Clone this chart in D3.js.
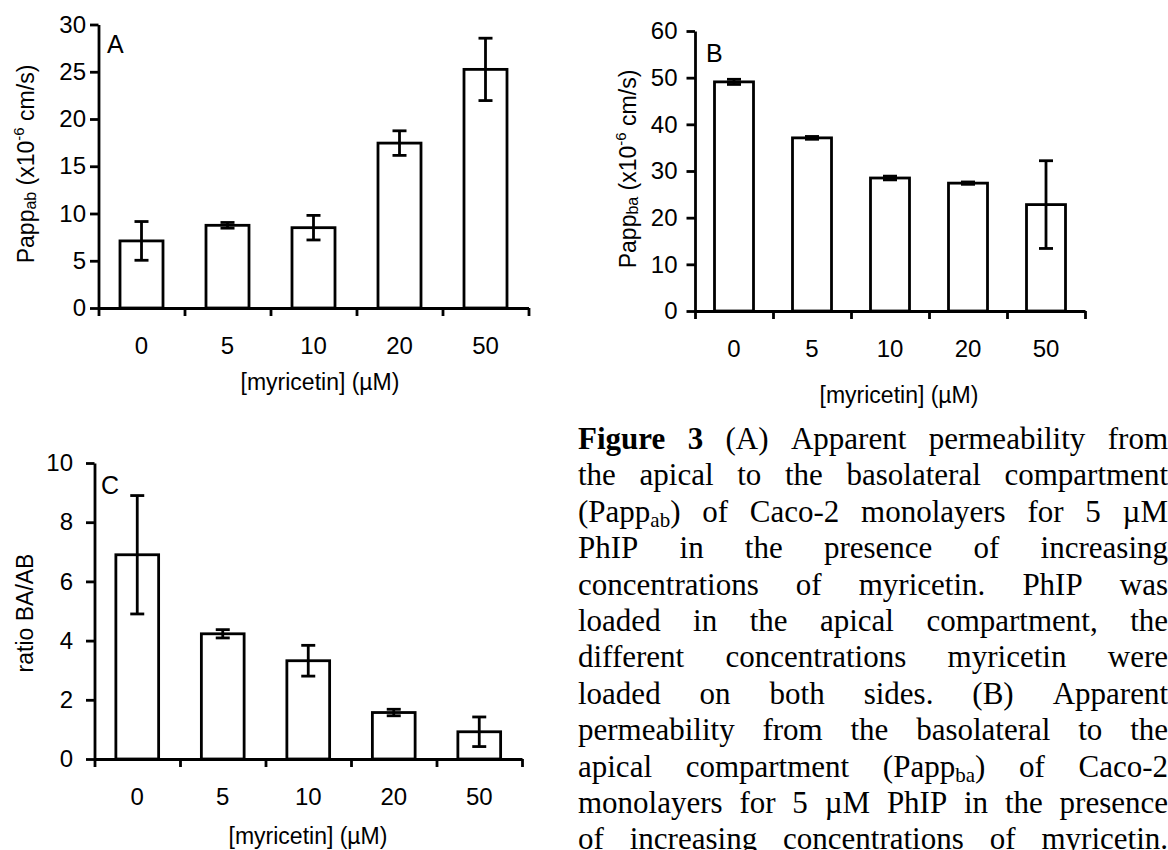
<!DOCTYPE html>
<html>
<head>
<meta charset="utf-8">
<script src="https://cdn.jsdelivr.net/npm/d3@7"></script>
<style>
  html, body { margin: 0; padding: 0; background: #fff; }
  svg { display: block; }
</style>
</head>
<body>
<svg id="fig" width="1168" height="850"></svg>
<script>
// ---- data ----------------------------------------------------------
const doses = ["0", "5", "10", "20", "50"];          // myricetin (µM)

const pappAB    = [7.1, 8.75, 8.5, 17.45, 25.25];      // x10^-6 cm/s
const pappABErr = [2.05, 0.3, 1.3, 1.3, 3.3];

const pappBA    = [49.1, 37.1, 28.5, 27.4, 22.8];      // x10^-6 cm/s
const pappBAErr = [0.55, 0.3, 0.4, 0.25, 9.4];

const ratioBAAB    = [6.9, 4.23, 3.32, 1.57, 0.92];
const ratioBAABErr = [2.0, 0.14, 0.52, 0.11, 0.5];

const ticksA = [0, 5, 10, 15, 20, 25, 30];
const ticksB = [0, 10, 20, 30, 40, 50, 60];
const ticksC = [0, 2, 4, 6, 8, 10];

const xTitle = "[myricetin] (µM)";

const captionLines = [
  "**Figure** **3** (A) Apparent permeability from",
  "the apical to the basolateral compartment",
  "(Papp_{ab}) of Caco-2 monolayers for 5 µM",
  "PhIP in the presence of increasing",
  "concentrations of myricetin. PhIP was",
  "loaded in the apical compartment, the",
  "different concentrations myricetin were",
  "loaded on both sides. (B) Apparent",
  "permeability from the basolateral to the",
  "apical compartment (Papp_{ba}) of Caco-2",
  "monolayers for 5 µM PhIP in the presence",
  "of increasing concentrations of myricetin."
];

// ---- styling -------------------------------------------------------
const SANS = "'Liberation Sans', Arial, Helvetica, sans-serif";
const SERIF = "'Liberation Serif', 'Times New Roman', Times, serif";
const SW = 2.8;
const FS = 24;

const svg = d3.select("#fig");
svg.append("rect").attr("width", 1168).attr("height", 850).attr("fill", "#fff");

// ---- one bar panel -------------------------------------------------
function drawPanel(cfg) {
  const g = svg.append("g").attr("font-family", SANS).attr("fill", "#000");

  const x = d3.scaleBand()
    .domain(doses)
    .range([cfg.left, cfg.left + doses.length * cfg.step])
    .paddingInner(0.5)
    .paddingOuter(0.25);
  const y = d3.scaleLinear().domain([0, cfg.max]).range([cfg.bottom, cfg.top]);
  const edges = d3.scaleLinear().domain([0, doses.length]).range(x.range());

  const rows = cfg.values.map((v, i) => ({ dose: doses[i], v, e: cfg.errs[i] }));

  // bars
  g.selectAll("rect.bar").data(rows).join("rect")
    .attr("class", "bar")
    .attr("x", d => x(d.dose))
    .attr("width", x.bandwidth())
    .attr("y", d => y(d.v))
    .attr("height", d => y(0) - y(d.v))
    .attr("fill", "#fff")
    .attr("stroke", "#000")
    .attr("stroke-width", SW);

  // error bars
  const cap = 7;
  const cx = d => x(d.dose) + x.bandwidth() / 2;
  const eb = g.selectAll("g.err").data(rows).join("g").attr("class", "err")
    .attr("stroke", "#000").attr("stroke-width", SW);
  eb.append("line")
    .attr("x1", cx).attr("x2", cx)
    .attr("y1", d => y(d.v + d.e))
    .attr("y2", d => y(d.v - d.e));
  eb.append("line")
    .attr("x1", d => cx(d) - cap).attr("x2", d => cx(d) + cap)
    .attr("y1", d => y(d.v + d.e)).attr("y2", d => y(d.v + d.e));
  eb.append("line")
    .attr("x1", d => cx(d) - cap).attr("x2", d => cx(d) + cap)
    .attr("y1", d => y(d.v - d.e)).attr("y2", d => y(d.v - d.e));

  // x axis: ticks sit on the category boundaries
  const xa = g.append("g").attr("transform", `translate(0,${y(0)})`)
    .call(d3.axisBottom(edges)
      .tickValues(d3.range(doses.length + 1))
      .tickSize(8).tickSizeOuter(0)
      .tickFormat(() => ""));
  xa.select(".domain").attr("stroke", "#000").attr("stroke-width", SW);
  xa.selectAll(".tick line").attr("stroke", "#000").attr("stroke-width", SW);

  // category labels
  g.selectAll("text.cat").data(doses).join("text")
    .attr("class", "cat")
    .attr("x", d => x(d) + x.bandwidth() / 2)
    .attr("y", cfg.labelY)
    .attr("text-anchor", "middle")
    .attr("font-size", FS)
    .text(d => d);

  // y axis
  const ya = g.append("g").attr("transform", `translate(${cfg.left},0)`)
    .call(d3.axisLeft(y)
      .tickValues(cfg.ticks)
      .tickSize(8.5).tickSizeOuter(0)
      .tickPadding(cfg.pad));
  ya.select(".domain").attr("stroke", "#000").attr("stroke-width", SW);
  ya.selectAll(".tick line").attr("stroke", "#000").attr("stroke-width", SW);
  ya.selectAll(".tick text")
    .attr("font-family", SANS).attr("font-size", FS).attr("fill", "#000");

  // x title
  g.append("text")
    .attr("x", cfg.titleX).attr("y", cfg.titleY)
    .attr("text-anchor", "middle")
    .attr("font-size", 23)
    .text(xTitle);

  // y title (rotated)
  const yt = g.append("text")
    .attr("transform", `translate(${cfg.yTitleX},${cfg.yTitleY}) rotate(-90)`)
    .attr("text-anchor", "middle")
    .attr("font-size", 23);
  cfg.yTitle(yt);

  // panel letter
  g.append("text")
    .attr("x", cfg.letterX).attr("y", cfg.letterY)
    .attr("font-size", 25)
    .text(cfg.letter);
}

function pappTitle(sub) {
  return t => {
    t.append("tspan").text("Papp");
    t.append("tspan").attr("font-size", 16).attr("dy", 2).text(sub);
    t.append("tspan").attr("dy", -2).text(" (x10");
    t.append("tspan").attr("font-size", 15).attr("dy", -10).text("-6");
    t.append("tspan").attr("dy", 10).text(" cm/s)");
  };
}

drawPanel({
  values: pappAB, errs: pappABErr, ticks: ticksA, max: 30,
  left: 98.5, step: 86, bottom: 308, top: 24.5, pad: 4,
  labelY: 354, titleX: 320, titleY: 390,
  yTitleX: 34, yTitleY: 164, yTitle: pappTitle("ab"),
  letter: "A", letterX: 107, letterY: 53
});

drawPanel({
  values: pappBA, errs: pappBAErr, ticks: ticksB, max: 60,
  left: 695, step: 78, bottom: 311, top: 31, pad: 9,
  labelY: 357, titleX: 899, titleY: 403,
  yTitleX: 636, yTitleY: 169, yTitle: pappTitle("ba"),
  letter: "B", letterX: 706, letterY: 62
});

drawPanel({
  values: ratioBAAB, errs: ratioBAABErr, ticks: ticksC, max: 10,
  left: 94.5, step: 85.5, bottom: 759, top: 463, pad: 13,
  labelY: 805, titleX: 308, titleY: 844,
  yTitleX: 33, yTitleY: 613, yTitle: t => t.text("ratio BA/AB"),
  letter: "C", letterX: 101, letterY: 494
});

// ---- justified caption ---------------------------------------------
const cap = { left: 578, right: 1168, top: 449, lead: 36.4, size: 31 };
const capG = svg.append("g").attr("font-family", SERIF).attr("font-size", cap.size).attr("fill", "#000");

captionLines.forEach((line, li) => {
  const baseY = cap.top + li * cap.lead;
  const words = line.split(" ");
  const nodes = words.map(w => {
    const t = capG.append("text").attr("y", baseY);
    let shifted = 0;
    w.split(/(\*\*.+?\*\*|_\{.+?\})/).filter(Boolean).forEach(tok => {
      const s = t.append("tspan");
      if (tok.startsWith("**")) {
        s.attr("font-weight", "bold").text(tok.slice(2, -2));
        if (shifted) { s.attr("dy", -shifted); shifted = 0; }
      } else if (tok.startsWith("_{")) {
        s.attr("font-size", 21).attr("dy", 5).text(tok.slice(2, -1));
        shifted = 5;
      } else {
        s.text(tok);
        if (shifted) { s.attr("dy", -shifted); shifted = 0; }
      }
    });
    return t;
  });
  const widths = nodes.map(n => n.node().getComputedTextLength());
  const total = d3.sum(widths);
  const gap = words.length > 1 ? (cap.right - cap.left - total) / (words.length - 1) : 0;
  let x0 = cap.left;
  nodes.forEach((n, i) => { n.attr("x", x0); x0 += widths[i] + gap; });
});
</script>
</body>
</html>
